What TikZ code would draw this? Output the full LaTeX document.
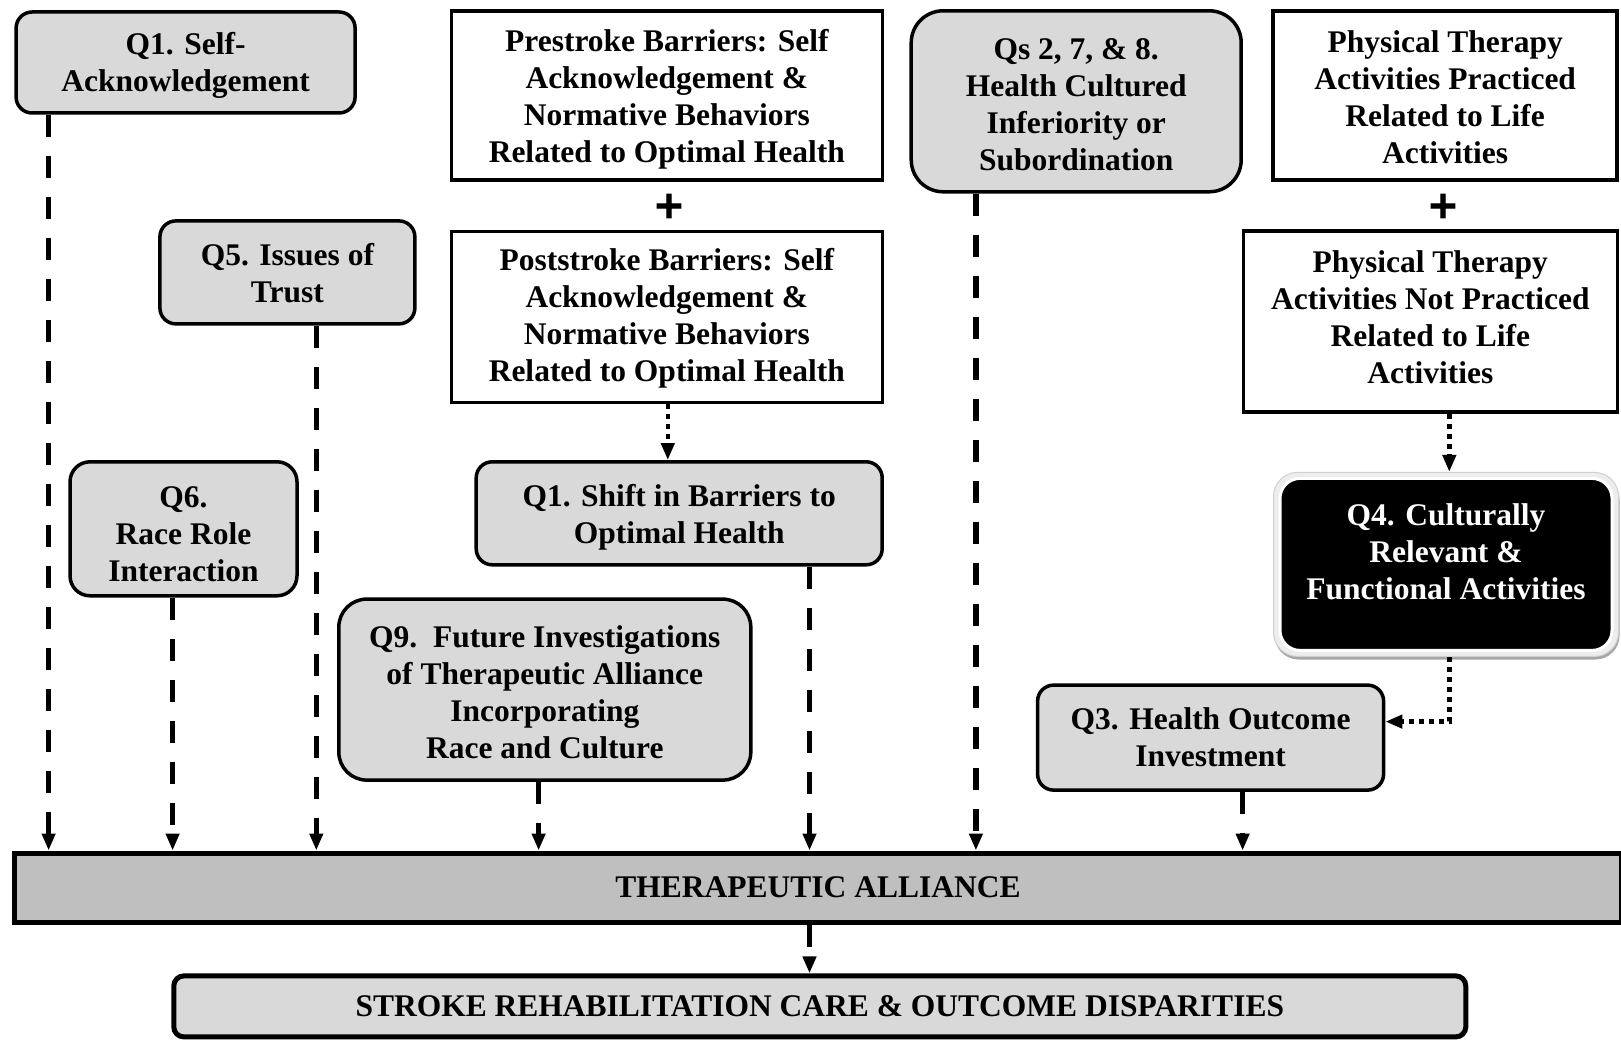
\documentclass[tikz,border=0pt]{standalone}
\usepackage{fontspec}
\setmainfont{Liberation Serif}
\newfontfamily\plusfont[BoldFeatures={FakeBold=2.5}]{DejaVu Sans}
\usetikzlibrary{arrows.meta}
\begin{document}
\begin{tikzpicture}[x=1pt,y=-1pt,
  every node/.style={font=\bfseries\fontsize{31.5}{37}\selectfont, align=center, inner sep=0pt},
  gbox/.style={draw=black, line width=3.5pt, fill=black!15, rounded corners=#1},
  gbox/.default=16pt,
  wbox/.style={draw=black, line width=3.5pt, fill=white},
  tdown/.style={execute at end node={\rule{0pt}{#1}}},
  tup/.style={execute at end node={\rule[-#1]{0pt}{0pt}}},
  plussign/.style={font=\plusfont\bfseries\fontsize{38}{40}\selectfont},
  dasharrow/.style={line width=5.5pt, dash pattern=on 22pt off 19pt, -{Triangle[width=13pt,length=17pt]}},
  dotarrow/.style={line width=4.5pt, dash pattern=on 5pt off 5pt, -{Triangle[width=13pt,length=17pt]}},
]
\useasboundingbox (0,0) rectangle (1621,1040);

% left column
\node[gbox, tdown=65.5pt, minimum width=339pt, minimum height=101pt] (q1s) at (185.6,62.5) {Q1. Self-\\Acknowledgement};
\node[gbox, tdown=61.5pt, minimum width=255pt, minimum height=103pt] (q5) at (287.4,272.4) {Q5. Issues of\\Trust};
\node[gbox=20pt, tdown=105.5pt, minimum width=227pt, minimum height=134pt] (q6) at (183.5,528.8) {Q6.\\Race Role\\Interaction};

% middle column
\node[wbox, tdown=140.5pt, minimum width=431pt, minimum height=169pt] (pre) at (666.8,95.6) {Prestroke Barriers: Self\\Acknowledgement \&\\Normative Behaviors\\Related to Optimal Health};
\node[plussign] (plus1) at (669,206) {+};
\node[wbox, tdown=136.5pt, minimum width=431pt, minimum height=171pt] (post) at (666.8,316.9) {Poststroke Barriers: Self\\Acknowledgement \&\\Normative Behaviors\\Related to Optimal Health};
\node[gbox, tdown=66.5pt, minimum width=406pt, minimum height=103pt] (q1shift) at (679.2,513.3) {Q1. Shift in Barriers to\\Optimal Health};
\node[gbox=28pt, tdown=138.5pt, minimum width=412pt, minimum height=181pt] (q9) at (544.8,689.6) {Q9.~~Future Investigations\\of Therapeutic Alliance\\Incorporating\\Race and Culture};

% right part
\node[gbox=32pt, tdown=138.5pt, minimum width=330pt, minimum height=181pt] (q278) at (1076.2,101.3) {Qs 2, 7, \& 8.\\Health Cultured\\Inferiority or\\Subordination};
\node[wbox, tdown=136.5pt, minimum width=344pt, minimum height=169pt] (ptp) at (1445.2,95.6) {Physical Therapy\\Activities Practiced\\Related to Life\\Activities};
\node[plussign] (plus2) at (1443,206) {+};
\node[wbox, tup=8.5pt, minimum width=374pt, minimum height=181pt] (ptn) at (1430.3,321.5) {Physical Therapy\\Activities Not Practiced\\Related to Life\\Activities};

% Q4 with halo
\node[fill=black!35, rounded corners=24pt, minimum width=345pt, minimum height=184pt] (q4sh) at (1447,567.5) {};
\node[fill=black!7, draw=black!18, line width=1pt, rounded corners=24pt, minimum width=345pt, minimum height=184pt] (q4h) at (1446,564.4) {};
\node[fill=black, draw=white, line width=3pt, rounded corners=20pt, minimum width=332pt, minimum height=172pt] (q4) at (1446,564.4) {};
\node[text=white] (q4t) at (1446,551.5) {Q4. Culturally\\Relevant \&\\Functional Activities};

\node[gbox, minimum width=346pt, minimum height=105pt] (q3) at (1210.6,737.6) {Q3. Health Outcome\\Investment};

% bottom bars
\node[draw=black, line width=5pt, fill=black!25, minimum width=1607pt, minimum height=69pt] (ta) at (818,887.5) {THERAPEUTIC ALLIANCE};
\node[draw=black, line width=5pt, fill=black!15, rounded corners=10pt, minimum width=1292pt, minimum height=61pt] (stroke) at (819.8,1006.4) {STROKE REHABILITATION CARE \& OUTCOME DISPARITIES};

% connector x positions
\coordinate (c1) at (48.6,0);
\coordinate (c6) at (172.6,0);
\coordinate (c5) at (316.3,0);
\coordinate (c9) at (538.6,0);
\coordinate (cs) at (809.5,0);
\coordinate (c2) at (975.9,0);
\coordinate (c3) at (1242.6,0);
\coordinate (cp) at (667.8,0);
\coordinate (k) at (1449.3,721.6);

\draw[dasharrow] (q1s.south -| c1) -- (ta.north -| c1);
\draw[dasharrow] (q6.south -| c6) -- (ta.north -| c6);
\draw[dasharrow] (q5.south -| c5) -- (ta.north -| c5);
\draw[dasharrow] (q9.south -| c9) -- (ta.north -| c9);
\draw[dasharrow] (q1shift.south -| cs) -- (ta.north -| cs);
\draw[dasharrow] (q278.south -| c2) -- (ta.north -| c2);
\draw[dasharrow] (q3.south -| c3) -- (ta.north -| c3);
\draw[dasharrow] (ta.south -| cs) -- (stroke.north -| cs);

\draw[dotarrow] (post.south -| cp) -- (q1shift.north -| cp);
\draw[dotarrow] (ptn.south -| k) -- (q4h.north -| k);
\draw[dotarrow] (q4h.south -| k) -- (k) -- (q3.east |- k);
\end{tikzpicture}
\end{document}
